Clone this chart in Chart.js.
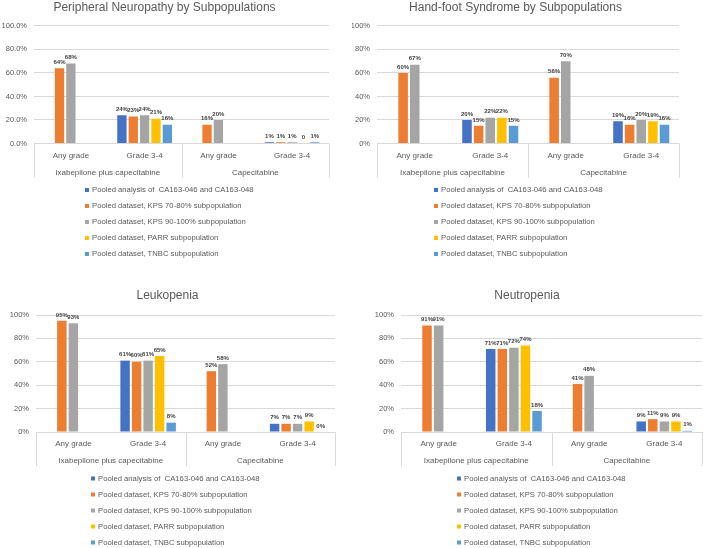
<!DOCTYPE html>
<html>
<head>
<meta charset="utf-8">
<script src="https://cdn.jsdelivr.net/npm/chart.js@4.4.1/dist/chart.umd.min.js"></script>
<style>
    body { margin: 0; background: #fff; width: 703px; height: 548px; position: relative; overflow: hidden; }
    canvas { position: absolute; }
</style>
</head>
<body>
<canvas id="c1" width="352" height="270" style="left:0;top:0"></canvas>
<canvas id="c2" width="351" height="270" style="left:352px;top:0"></canvas>
<canvas id="c3" width="352" height="278" style="left:0;top:270px"></canvas>
<canvas id="c4" width="351" height="278" style="left:352px;top:270px"></canvas>
<script>
const FONT = '"Liberation Sans", Arial, sans-serif';

const gradeLabels = ['Any grade', 'Grade 3-4', 'Any grade', 'Grade 3-4'];
const groupLabels = ['Ixabepilone plus capecitabine', 'Capecitabine'];
const seriesNames = [
    'Pooled analysis of  CA163-046 and CA163-048',
    'Pooled dataset, KPS 70-80% subpopulation',
    'Pooled dataset, KPS 90-100% subpopulation',
    'Pooled dataset, PARR subpopulation',
    'Pooled dataset, TNBC subpopulation'
];
const seriesColors = ['#4472C4', '#ED7D31', '#A5A5A5', '#FFC000', '#5B9BD5'];

// rows = series (same order as seriesNames), columns = gradeLabels
const neuropathyValues = [
    [null, 24, null, 1],
    [64, 23, 16, 1],
    [68, 24, 20, 1],
    [null, 21, null, 0],
    [null, 16, null, 1]
];
const handFootValues = [
    [null, 20, null, 19],
    [60, 15, 56, 16],
    [67, 22, 70, 20],
    [null, 22, null, 19],
    [null, 15, null, 16]
];
const leukopeniaValues = [
    [null, 61, null, 7],
    [95, 60, 52, 7],
    [93, 61, 58, 7],
    [null, 65, null, 9],
    [null, 8, null, 0]
];
const neutropeniaValues = [
    [null, 71, null, 9],
    [91, 71, 41, 11],
    [91, 72, 48, 9],
    [null, 74, null, 9],
    [null, 18, null, 1]
];
const yTicks = [0, 20, 40, 60, 80, 100];

// percentage labels on top of the bars
const valueLabels = {
    id: 'valueLabels',
    afterDatasetsDraw(chart, args, opts) {
        const ctx = chart.ctx;
        ctx.save();
        ctx.font = 'bold 6px ' + FONT;
        ctx.fillStyle = '#404040';
        ctx.textAlign = 'center';
        ctx.textBaseline = 'bottom';
        chart.data.datasets.forEach((ds, i) => {
            chart.getDatasetMeta(i).data.forEach((bar, j) => {
                const v = ds.data[j];
                if (v === null) return;
                const txt = (opts.zeroText && v === 0) ? '0' : v + '%';
                ctx.fillText(txt, bar.x, bar.y - 3);
            });
        });
        ctx.restore();
    }
};

// separators of the two-level category axis + legend list
const groupAxis = {
    id: 'groupAxis',
    afterDraw(chart, args, opts) {
        const ctx = chart.ctx;
        const x = chart.scales.x;
        const x2 = chart.scales.x2;
        ctx.save();
        ctx.strokeStyle = '#d9d9d9';
        ctx.lineWidth = 1;
        const edges = [x.left, (x.getPixelForValue(1) + x.getPixelForValue(2)) / 2, x.right];
        edges.forEach(px => {
            const p = Math.round(px) + 0.5;
            ctx.beginPath();
            ctx.moveTo(p, x.top);
            ctx.lineTo(p, x2.bottom);
            ctx.stroke();
        });

        ctx.font = '7.7px ' + FONT;
        ctx.textAlign = 'left';
        ctx.textBaseline = 'middle';
        const y0 = x2.bottom + 12.5;
        chart.data.datasets.forEach((ds, i) => {
            const y = y0 + i * 16;
            ctx.fillStyle = ds.backgroundColor;
            ctx.fillRect(opts.legendX, y - 2, 4, 4);
            ctx.fillStyle = '#595959';
            ctx.fillText(ds.label, opts.legendX + 7, y);
        });
        ctx.restore();
    }
};

function buildChart(canvasId, title, values, layout) {
    const tickFont = { family: FONT, size: 8 };
    return new Chart(document.getElementById(canvasId), {
        type: 'bar',
        data: {
            labels: gradeLabels,
            datasets: seriesNames.map((name, i) => ({
                label: name,
                data: values[i],
                backgroundColor: seriesColors[i],
                categoryPercentage: 0.77,
                barPercentage: 0.82
            }))
        },
        options: {
            responsive: false,
            animation: false,
            layout: { padding: { left: 0, right: layout.padRight, top: 0, bottom: layout.legendSpace } },
            plugins: {
                legend: { display: false },
                tooltip: { enabled: false },
                title: {
                    display: true,
                    text: title,
                    color: '#595959',
                    font: { family: FONT, size: 12, weight: 'normal', lineHeight: 1.2 },
                    padding: { top: layout.titleTop, bottom: layout.titleBottom }
                },
                valueLabels: { zeroText: layout.zeroText },
                groupAxis: { legendX: layout.legendX }
            },
            scales: {
                x: {
                    offset: true,
                    grid: { display: false, drawTicks: false },
                    border: { display: false },
                    ticks: { color: '#595959', font: tickFont, padding: 7, maxRotation: 0, autoSkip: false },
                    afterFit: s => { s.height = 20; }
                },
                x2: {
                    type: 'category',
                    labels: groupLabels,
                    position: 'bottom',
                    weight: 1,
                    offset: true,
                    grid: { display: false, drawTicks: false },
                    border: { display: false },
                    ticks: { color: '#595959', font: tickFont, padding: 4, maxRotation: 0, autoSkip: false },
                    afterFit: s => { s.height = 14; }
                },
                y: {
                    min: 0,
                    max: 100,
                    afterBuildTicks: s => { s.ticks = yTicks.map(v => ({ value: v })); },
                    ticks: {
                        color: '#595959',
                        font: { family: FONT, size: 7.5 },
                        padding: 7,
                        callback: v => layout.decimals ? v.toFixed(1) + '%' : v + '%'
                    },
                    grid: { color: '#d9d9d9', drawTicks: false },
                    border: { display: false },
                    afterFit: s => { s.width = layout.plotLeft; }
                }
            }
        },
        plugins: [valueLabels, groupAxis]
    });
}

buildChart('c1', 'Peripheral Neuropathy by Subpopulations', neuropathyValues,
    { plotLeft: 34, padRight: 23, titleTop: 0, titleBottom: 11.5, legendSpace: 92.5, legendX: 85, decimals: true, zeroText: true });
buildChart('c2', 'Hand-foot Syndrome by Subpopulations', handFootValues,
    { plotLeft: 25, padRight: 24, titleTop: 0, titleBottom: 11.5, legendSpace: 92.5, legendX: 82, decimals: false, zeroText: false });
buildChart('c3', 'Leukopenia', leukopeniaValues,
    { plotLeft: 36, padRight: 17, titleTop: 18.8, titleBottom: 11.8, legendSpace: 82, legendX: 91, decimals: false, zeroText: false });
buildChart('c4', 'Neutropenia', neutropeniaValues,
    { plotLeft: 49, padRight: 1, titleTop: 18.8, titleBottom: 11.8, legendSpace: 82, legendX: 105, decimals: false, zeroText: false });
</script>
</body>
</html>
